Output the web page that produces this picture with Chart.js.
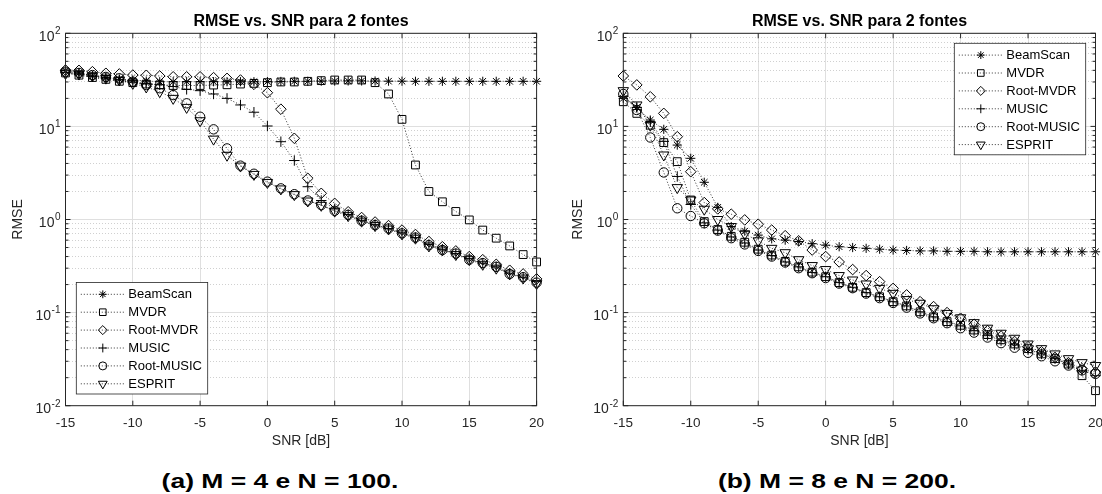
<!DOCTYPE html>
<html>
<head>
<meta charset="utf-8">
<script src="https://cdn.jsdelivr.net/npm/chart.js@4.4.1/dist/chart.umd.min.js"></script>
<style>
html,body{margin:0;padding:0;background:#fff;width:1102px;height:494px;overflow:hidden;position:relative;}
canvas{position:absolute;top:0;}
.cap{position:absolute;top:469px;font-family:'Liberation Sans',Arial,Helvetica,sans-serif;font-weight:bold;font-size:21px;line-height:24px;color:#000;white-space:nowrap;transform:translateX(-50%) scaleX(1.26);}
</style>
</head>
<body>
<canvas id="cA" width="602" height="460" style="left:0px"></canvas>
<canvas id="cB" width="599" height="460" style="left:560px"></canvas>
<div class="cap" style="left:280px">(a) M = 4 e N = 100.</div>
<div class="cap" style="left:837px">(b) M = 8 e N = 200.</div>
<script>
// ---------------- data ----------------
const TITLE = 'RMSE vs. SNR para 2 fontes';
const X_LABEL = 'SNR [dB]';
const Y_LABEL = 'RMSE';
const SERIES_NAMES = ['BeamScan', 'MVDR', 'Root-MVDR', 'MUSIC', 'Root-MUSIC', 'ESPRIT'];
const SNR = [-15,-14,-13,-12,-11,-10,-9,-8,-7,-6,-5,-4,-3,-2,-1,0,1,2,3,4,5,6,7,8,9,10,11,12,13,14,15,16,17,18,19,20];
const X_TICKS = [-15,-10,-5,0,5,10,15,20];
const Y_MAJOR_TICKS = [0.01, 0.1, 1, 10, 100];
const Y_TICK_BASE = '10';
const Y_TICK_EXPONENTS = ['-2', '-1', '0', '1', '2'];

// (a) M = 4, N = 100
const beamscanA  = [39.6,37.7,34.8,33.4,32.0,31.5,30.7,30.2,30.2,30.2,30.2,30.2,30.2,30.2,30.2,30.3,30.4,30.5,30.5,30.6,30.7,30.8,30.8,30.7,30.6,30.6,30.5,30.5,30.5,30.5,30.5,30.5,30.5,30.5,30.5,30.5];
const mvdrA      = [37.5,35.5,33.5,32.0,30.5,29.5,28.5,28.0,27.5,27.5,27.5,27.8,28.0,28.5,29.0,29.5,30.0,30.0,30.5,31.0,31.5,31.5,31.5,29.5,22.3,11.9,3.85,2.0,1.55,1.22,0.99,0.77,0.63,0.52,0.42,0.35];
const rootMvdrA  = [40.3,40.0,38.7,37.2,36.6,35.6,35.4,34.8,34.1,34.1,34.1,33.4,32.8,31.5,28.3,23.0,15.3,7.45,2.77,1.91,1.49,1.21,1.05,0.94,0.86,0.77,0.69,0.58,0.51,0.46,0.40,0.37,0.33,0.285,0.26,0.23];
const musicA     = [38.0,36.5,34.5,33.0,31.5,30.0,29.0,28.0,26.8,25.0,24.2,22.3,20.0,17.0,14.2,10.1,6.85,4.3,2.25,1.6,1.3,1.13,0.98,0.88,0.80,0.72,0.64,0.54,0.48,0.43,0.38,0.34,0.31,0.265,0.24,0.215];
const rootMusicA = [38.7,37.5,35.6,34.0,32.8,30.2,27.8,25.7,21.7,17.7,12.7,9.3,5.8,3.79,3.1,2.55,2.16,1.87,1.6,1.43,1.24,1.12,0.97,0.87,0.80,0.71,0.64,0.53,0.47,0.43,0.37,0.34,0.31,0.26,0.24,0.21];
const espritA    = [37.0,36.5,35.0,33.0,31.5,29.0,26.5,23.6,20.0,16.0,11.5,7.3,4.9,3.75,3.05,2.5,2.13,1.85,1.58,1.42,1.23,1.10,0.96,0.86,0.79,0.70,0.63,0.52,0.47,0.42,0.37,0.33,0.30,0.26,0.235,0.205];

// (b) M = 8, N = 200
const beamscanB  = [20.0,16.0,11.7,9.3,6.3,4.54,2.51,1.35,0.84,0.75,0.68,0.62,0.60,0.58,0.55,0.53,0.51,0.50,0.49,0.48,0.47,0.465,0.46,0.46,0.455,0.455,0.455,0.45,0.45,0.45,0.45,0.45,0.45,0.45,0.45,0.45];
const mvdrB      = [18.4,13.8,10.3,6.7,4.18,1.62,0.95,0.78,0.66,0.57,0.48,0.415,0.355,0.31,0.272,0.243,0.21,0.187,0.164,0.148,0.131,0.118,0.102,0.090,0.080,0.073,0.065,0.058,0.051,0.046,0.041,0.036,0.032,0.028,0.021,0.0145];
const rootMvdrB  = [34.8,27.9,20.8,13.8,7.75,3.26,1.52,1.30,1.14,0.99,0.89,0.77,0.67,0.59,0.47,0.40,0.35,0.29,0.25,0.215,0.182,0.155,0.131,0.116,0.100,0.087,0.075,0.064,0.056,0.049,0.043,0.038,0.033,0.029,0.025,0.023];
const musicB     = [21.0,16.0,11.2,6.9,2.9,1.45,0.92,0.77,0.65,0.56,0.47,0.41,0.35,0.31,0.27,0.243,0.21,0.187,0.164,0.148,0.131,0.118,0.102,0.090,0.080,0.072,0.064,0.057,0.050,0.045,0.040,0.036,0.032,0.028,0.024,0.021];
const rootMusicB = [22.3,15.0,7.6,3.2,1.32,1.09,0.91,0.76,0.63,0.54,0.46,0.40,0.345,0.30,0.265,0.235,0.205,0.183,0.160,0.143,0.127,0.113,0.098,0.087,0.077,0.068,0.061,0.054,0.047,0.042,0.037,0.034,0.030,0.027,0.024,0.022];
const espritB    = [24.2,17.0,10.3,4.93,2.2,1.62,1.29,1.0,0.84,0.70,0.59,0.49,0.44,0.37,0.32,0.29,0.25,0.224,0.203,0.182,0.161,0.138,0.126,0.110,0.098,0.088,0.078,0.068,0.060,0.053,0.046,0.041,0.036,0.032,0.029,0.027];

// ---------------- styling ----------------
const FONT = "'Liberation Sans', Arial, Helvetica, sans-serif";
const MARKERS = ['star', 'rect', 'rectRot', 'cross', 'circle', 'triangle'];
const MARKER_R = [4.6, 5.5, 5.3, 5.2, 4.7, 6];
const MARKER_ROT = [0, 0, 0, 0, 0, 180];

Chart.defaults.font.family = FONT;
Chart.defaults.color = '#262626';

function isMajor(v) { const l = Math.log10(v); return Math.abs(l - Math.round(l)) < 1e-9; }
function yTickValues() {
  const out = [];
  for (let e = -2; e < 2; e++) for (let m = 1; m < 10; m++) out.push(+(m * Math.pow(10, e)).toPrecision(3));
  out.push(100);
  return out;
}

function drawMarker(ctx, style, r, rot, x, y) {
  if (Chart.helpers && Chart.helpers.drawPoint) {
    Chart.helpers.drawPoint(ctx, {pointStyle: style, radius: r, rotation: rot, borderWidth: 1}, x, y);
  }
}

const framePlugin = {
  id: 'frame',
  afterDatasetsDraw(chart) {
    const {ctx, chartArea: a, scales} = chart;
    const x = scales.x, y = scales.y;
    ctx.save();
    ctx.strokeStyle = '#262626';
    ctx.lineWidth = 1;
    ctx.setLineDash([]);
    ctx.beginPath();
    x.ticks.forEach(t => {
      const px = x.getPixelForValue(t.value);
      ctx.moveTo(px, a.bottom); ctx.lineTo(px, a.bottom - 5);
      ctx.moveTo(px, a.top); ctx.lineTo(px, a.top + 5);
    });
    y.ticks.forEach(t => {
      const py = y.getPixelForValue(t.value);
      const L = isMajor(t.value) ? 5 : 3;
      ctx.moveTo(a.left, py); ctx.lineTo(a.left + L, py);
      ctx.moveTo(a.right, py); ctx.lineTo(a.right - L, py);
    });
    ctx.stroke();
    ctx.strokeRect(a.left, a.top, a.right - a.left, a.bottom - a.top);
    // log-axis tick labels: base "10" with a raised exponent
    ctx.fillStyle = '#262626';
    ctx.textAlign = 'left';
    ctx.textBaseline = 'alphabetic';
    Y_MAJOR_TICKS.forEach((v, i) => {
      const py = y.getPixelForValue(v);
      const ex = Y_TICK_EXPONENTS[i];
      ctx.font = '10px ' + FONT;
      const ew = ctx.measureText(ex).width;
      ctx.fillText(ex, a.left - 5 - ew, py + 0.8);
      ctx.font = '14px ' + FONT;
      const bw = ctx.measureText(Y_TICK_BASE).width;
      ctx.fillText(Y_TICK_BASE, a.left - 5.5 - ew - bw, py + 7.2);
    });
    ctx.restore();
  }
};

function legendPlugin(where) {
  return {
    id: 'mlegend',
    afterDraw(chart) {
      const {ctx, chartArea: a} = chart;
      const w = 131.4, h = 111.5;
      const left = where === 'bottomleft' ? a.left + 10.8 : a.right - 9.8 - w;
      const top = where === 'bottomleft' ? a.bottom - 11.7 - h : a.top + 10;
      ctx.save();
      ctx.fillStyle = '#fff';
      ctx.fillRect(left, top, w, h);
      ctx.strokeStyle = '#262626';
      ctx.lineWidth = 0.8;
      ctx.strokeRect(left, top, w, h);
      chart.data.datasets.forEach((ds, k) => {
        const cy = top + 11.8 + k * 17.9;
        ctx.strokeStyle = '#000';
        ctx.lineWidth = 0.8;
        ctx.setLineDash([1, 2]);
        ctx.beginPath();
        ctx.moveTo(left + 4.5, cy); ctx.lineTo(left + 49, cy);
        ctx.stroke();
        ctx.setLineDash([]);
        ctx.fillStyle = 'rgba(0,0,0,0)';
        ctx.strokeStyle = '#000';
        ctx.lineWidth = 1;
        drawMarker(ctx, MARKERS[k], MARKER_R[k] * 0.85, MARKER_ROT[k], left + 26.5, cy);
        ctx.fillStyle = '#000';
        ctx.font = '13px ' + FONT;
        ctx.textAlign = 'left';
        ctx.textBaseline = 'middle';
        ctx.fillText(ds.label, left + 52, cy + 0.5);
      });
      ctx.restore();
    }
  };
}

function build(id, series, yWidth, rightWidth, legendWhere) {
  const datasets = SERIES_NAMES.map((name, k) => ({
    label: name,
    data: SNR.map((s, i) => ({x: s, y: series[k][i]})),
    borderColor: '#000',
    borderWidth: 0.8,
    borderDash: [1, 2],
    pointStyle: MARKERS[k],
    pointRadius: MARKER_R[k],
    pointHoverRadius: MARKER_R[k],
    pointRotation: MARKER_ROT[k],
    pointBorderColor: '#000',
    pointBackgroundColor: 'rgba(0,0,0,0)',
    pointBorderWidth: 1,
    fill: false,
    tension: 0,
    clip: false
  }));
  return new Chart(document.getElementById(id), {
    type: 'line',
    data: {datasets},
    options: {
      responsive: false,
      animation: false,
      events: [],
      layout: {padding: 0},
      plugins: {
        legend: {display: false},
        tooltip: {enabled: false},
        title: {
          display: true, text: TITLE, color: '#000',
          font: {size: 16, weight: 'bold'},
          padding: {top: 11.6, bottom: 2.5}
        }
      },
      scales: {
        x: {
          type: 'linear', min: -15, max: 20, position: 'bottom',
          afterBuildTicks: s => { s.ticks = X_TICKS.map(v => ({value: v})); },
          afterFit: s => { s.height = 54.3; },
          ticks: {font: {size: 13.5}, padding: 9.5, color: '#262626', autoSkip: false, maxRotation: 0},
          grid: {color: '#dfdfdf', lineWidth: 1, drawTicks: false},
          border: {display: false},
          title: {display: true, text: X_LABEL, color: '#262626', font: {size: 14}, padding: {top: 0, bottom: 10}}
        },
        y: {
          type: 'logarithmic', min: 0.01, max: 100, position: 'left',
          afterBuildTicks: s => { s.ticks = yTickValues().map(v => ({value: v, major: isMajor(v)})); },
          afterFit: s => { s.width = yWidth; },
          ticks: {display: false, autoSkip: false},
          grid: {
            drawTicks: false,
            color: c => (c.tick && !isMajor(c.tick.value)) ? '#c4c4c4' : '#dfdfdf',
            lineWidth: c => (c.tick && !isMajor(c.tick.value)) ? 0.8 : 1
          },
          border: {display: false, dash: c => (c.tick && !isMajor(c.tick.value)) ? [1, 2] : []},
          title: {display: true, text: Y_LABEL, color: '#262626', font: {size: 14}, padding: {top: 9.6, bottom: 0}}
        },
        yR: {
          type: 'linear', position: 'right', display: true,
          ticks: {display: false},
          grid: {display: false, drawTicks: false},
          border: {display: false},
          afterFit: s => { s.width = rightWidth; }
        }
      }
    },
    plugins: [framePlugin, legendPlugin(legendWhere)]
  });
}

build('cA', [beamscanA, mvdrA, rootMvdrA, musicA, rootMusicA, espritA], 65.5, 65.4, 'bottomleft');
build('cB', [beamscanB, mvdrB, rootMvdrB, musicB, rootMusicB, espritB], 63.3, 63.5, 'topright');
</script>
</body>
</html>
